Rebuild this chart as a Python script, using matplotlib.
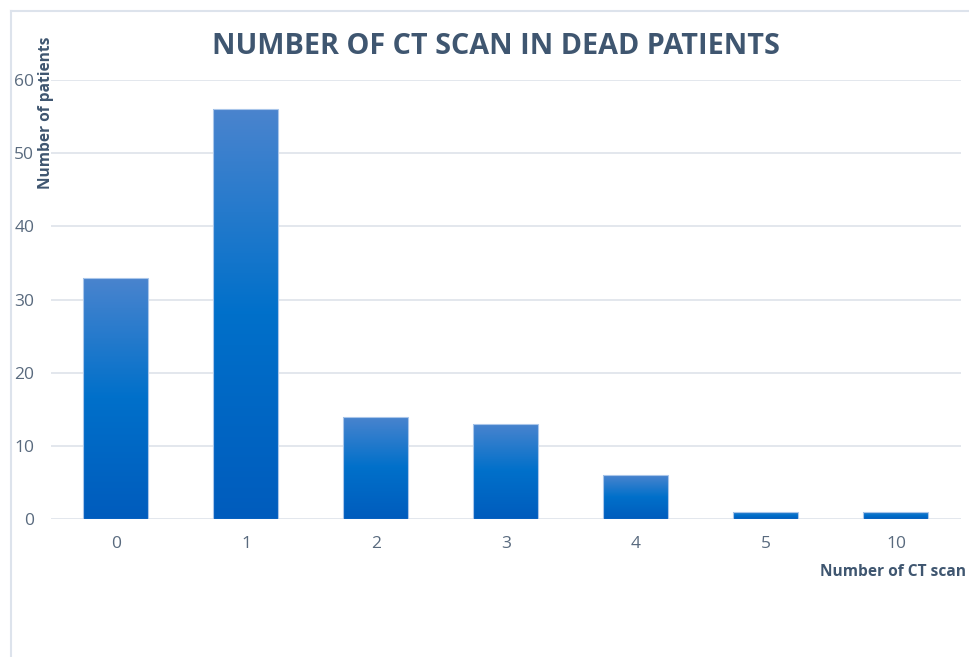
import matplotlib
matplotlib.use("Agg")
import matplotlib.pyplot as plt
import numpy as np
from matplotlib.colors import LinearSegmentedColormap
from matplotlib.lines import Line2D

categories = ["0", "1", "2", "3", "4", "5", "10"]
patients = [33, 56, 14, 13, 6, 1, 1]
yticks = [0, 10, 20, 30, 40, 50, 60]

title = "NUMBER OF CT SCAN IN DEAD PATIENTS"
ylabel = "Number of patients"
xlabel = "Number of CT scan"

W, H = 970, 657
fig = plt.figure(figsize=(W / 100, H / 100), dpi=100)
fig.patch.set_facecolor("white")

ax = fig.add_axes([51 / W, (H - 519) / H, (961 - 51) / W, (519 - 80) / H])
ax.set_facecolor("none")

x = np.arange(len(categories))
bars = ax.bar(x, patients, width=0.5, color="none", edgecolor="#a9c6ea",
              linewidth=0.8, zorder=3)

cmap = LinearSegmentedColormap.from_list(
    "g", [(0.0, "#005cbd"), (0.5, "#0070ca"), (1.0, "#4a84ce")])
grad = np.linspace(0, 1, 256).reshape(-1, 1)
for b in bars:
    bx, by = b.get_x(), b.get_y()
    bw, bh = b.get_width(), b.get_height()
    im = ax.imshow(grad, extent=[bx, bx + bw, by, by + bh], origin="lower",
                   cmap=cmap, aspect="auto", zorder=2, interpolation="bilinear")
    im.set_clip_path(b)

ax.set_xlim(-0.5, len(categories) - 0.5)
ax.set_ylim(0, 60)
ax.set_yticks(yticks)
ax.set_xticks(x)
ax.set_xticklabels(categories)
ax.yaxis.grid(True, color="#e1e5ec", linewidth=1.3, zorder=0)
ax.set_axisbelow(True)
for s in ax.spines.values():
    s.set_visible(False)
ax.tick_params(axis="both", length=0, labelsize=12.5, labelcolor="#596a7e")
ax.tick_params(axis="y", pad=12)
ax.tick_params(axis="x", pad=12)
for lab in ax.get_xticklabels() + ax.get_yticklabels():
    lab.set_fontfamily("Open Sans")

fig.text(496 / W, 1 - 47 / H, title, ha="center", va="center",
         fontsize=20.7, fontweight="bold", color="#3f5670", family="Open Sans")
fig.text(46 / W, 1 - 113 / H, ylabel, ha="center", va="center", rotation=90,
         fontsize=11.2, fontweight="bold", color="#3f5670", family="Open Sans")
fig.text(966 / W, 1 - 572 / H, xlabel, ha="right", va="center",
         fontsize=11.2, fontweight="bold", color="#3f5670", family="Open Sans")

# outer chart border (cropped)
fig.add_artist(Line2D([11 / W, 11 / W], [0, 1 - 11 / H], transform=fig.transFigure,
                      color="#dde3ec", linewidth=1.5))
fig.add_artist(Line2D([11 / W, 1], [1 - 11 / H, 1 - 11 / H], transform=fig.transFigure,
                      color="#dde3ec", linewidth=1.5))

fig.savefig("out.png", dpi=100)
